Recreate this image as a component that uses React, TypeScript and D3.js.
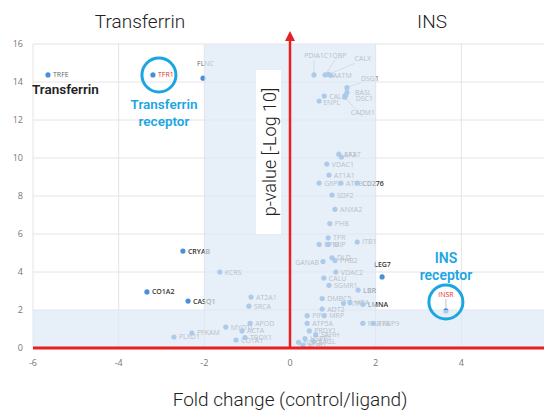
import React from 'react';
import * as d3 from 'd3';

// protein names, fold change (control/ligand) and p-value [-log10]
const names = [
  'TRFE', 'TFR1', 'FLNC', 'CRYAB', 'KCRS', 'CO1A2', 'CASQ1', 'AT2A1', 'SRCA', 'APOD',
  'MYOTL', 'ACTA', 'TBOX1', 'CO1A1', 'PFKAM', 'PLXD1',
  'PDIA1', 'C1QBP', 'AATM', 'CALX', 'DSG1', 'BASL', 'DSC1', 'CALR', 'ENPL', 'CADM1',
  'AAAT', 'EF2', 'VDAC1', 'AT1A1', 'G6PI', 'ATPB', 'CD276', 'SDF2', 'ANXA2', 'PHB',
  'TPR', 'ITB1', 'PPIB', 'MIP', 'GANAB', 'DLD', 'PHB2', 'LEG7', 'VDAC2', 'CALU',
  'SGMR1', 'LBR', 'DMBC5', 'ADT2', 'ATPA', 'HBA', 'LMNA', 'PIP', 'MRP', 'ATP5A',
  'RAB7A', 'FKBP9', 'PRDX1', 'SAHH', 'HSPB1', 'NDKB', 'TAGL', 'ALBU', 'INSR',
];
const foldChange = [
  -5.65, -3.2, -2.03, -2.5, -1.64, -3.34, -2.38, -0.91, -0.96, -0.93,
  -1.5, -1.12, -1.05, -1.26, -2.29, -2.71,
  0.56, 0.82, 0.95, 0.9, 1.33, 1.33, 1.3, 0.8, 0.68, 1.28,
  1.14, 1.2, 0.86, 0.91, 0.68, 1.19, 1.57, 0.98, 1.05, 0.93,
  0.89, 1.57, 0.68, 0.89, 0.77, 0.98, 1.05, 2.15, 1.07, 0.79,
  0.91, 1.59, 0.75, 0.75, 1.25, 1.4, 1.7, 0.4, 0.8, 0.4,
  1.7, 1.95, 0.45, 0.6, 0.35, 0.2, 0.55, 0.3, 3.64,
];
const pValue = [
  14.37, 14.37, 14.2, 5.1, 4.0, 2.95, 2.47, 2.68, 2.2, 1.3,
  1.1, 0.9, 0.55, 0.42, 0.79, 0.58,
  14.37, 14.37, 14.35, 14.4, 13.7, 13.45, 13.3, 13.26, 13.0, 13.2,
  10.2, 10.05, 9.68, 9.1, 8.68, 8.68, 8.68, 8.05, 7.3, 6.55,
  5.8, 5.58, 5.45, 5.45, 4.55, 4.75, 4.6, 3.74, 4.0, 3.68,
  3.3, 3.05, 2.6, 2.05, 2.35, 2.4, 2.3, 1.7, 1.7, 1.3,
  1.3, 1.3, 0.9, 0.7, 0.5, 0.3, 0.35, 0.15, 1.95,
];
const xTicks = [-6, -4, -2, 0, 2, 4, 6];
const yTicks = [0, 2, 4, 6, 8, 10, 12, 14, 16];

// label placement tweaks (dx, dy, anchor, leader line)
const labelPos: Record<string, [number, number, string, boolean?]> = {
  FLNC: [-6, -12, 'start'],
  PDIA1: [0, -17, 'middle', true],
  C1QBP: [10, -17, 'middle', true],
  AATM: [2, 3, 'start'],
  CALX: [26, -13, 'start', true],
  DSG1: [14, -7, 'start', true],
  BASL: [8, 3, 'start'],
  DSC1: [10, 6, 'start'],
  CADM1: [18, 18, 'middle', true],
  ENPL: [4, 4, 'start'],
  GANAB: [-4, 3, 'end'],
  LEG7: [-8, -10, 'start'],
  EF2: [3, 0, 'start'],
  INSR: [0, -14, 'middle', true],
};
const darkLabels = ['CD276', 'LEG7', 'LBR', 'LMNA', 'CO1A2', 'CRYAB', 'CASQ1'];

const W = 544;
const H = 412;

const App = () => {
  const x = d3.scaleLinear().domain([-6, 6]).range([33, 547]);
  const y = d3.scaleLinear().domain([0, 16]).range([348, 44]);

  // shaded "not significant" zone: vertical band |fc|<2 plus bottom band p<2
  const shade = d3.line<[number, number]>().x(d => x(d[0])).y(d => y(d[1]))([
    [-6, 0], [6, 0], [6, 2], [2, 2], [2, 16], [-2, 16], [-2, 2], [-6, 2],
  ]) + 'Z';

  const blue = '#1ba6e2';

  return (
    <svg width={W} height={H} style={{ position: 'absolute', left: 0, top: 0, background: '#fff' }}
      fontFamily="'Open Sans', sans-serif">
      {/* grid */}
      {yTicks.filter(t => t > 0).map(t => (
        <line key={'gy' + t} x1={x(-6)} x2={W} y1={y(t)} y2={y(t)} stroke="#e4e4e4" strokeWidth={1} />
      ))}
      {xTicks.filter(t => t !== 0).map(t => (
        <line key={'gx' + t} x1={x(t)} x2={x(t)} y1={y(16)} y2={y(0)} stroke="#e4e4e4" strokeWidth={1} />
      ))}

      {/* points + labels */}
      {names.map((n, i) => {
        const px = x(foldChange[i]);
        const py = y(pValue[i]);
        const lp = labelPos[n] || [5, 2.5, 'start'];
        const lx = px + lp[0];
        const ly = py + lp[1];
        const col = n === 'TFR1' || n === 'INSR' ? '#e03030' : darkLabels.includes(n) ? '#333' : '#666';
        return (
          <g key={n}>
            {lp[3] && (
              <line x1={lx} y1={ly + 2} x2={px} y2={py} stroke="#999" strokeWidth={0.6} />
            )}
            <circle cx={px} cy={py} r={2.6} fill="#4a90d9" />
            <text x={lx} y={ly} fontSize={7} fill={col} textAnchor={lp[2]}
              fontWeight={darkLabels.includes(n) ? 600 : 400}>{n}</text>
          </g>
        );
      })}

      <path d={shade} fill="#dce8f5" fillOpacity={0.68} />

      {/* tick labels */}
      {yTicks.map(t => (
        <text key={'ty' + t} x={23} y={y(t) + 3} fontSize={9} fill="#777" textAnchor="end">{t}</text>
      ))}
      {xTicks.map(t => (
        <text key={'tx' + t} x={x(t)} y={366} fontSize={9} fill="#777" textAnchor="middle">{t}</text>
      ))}

      {/* red axes */}
      <line x1={x(-6)} x2={W} y1={y(0)} y2={y(0)} stroke="#e8201f" strokeWidth={3} />
      <line x1={x(0)} x2={x(0)} y1={y(0)} y2={40} stroke="#e8201f" strokeWidth={2.5} />
      <path d={`M${x(0) - 5},${41} L${x(0)},${31} L${x(0) + 5},${41} Z`} fill="#e8201f" />

      {/* y axis title */}
      <rect x={256} y={70} width={25} height={164} fill="#fff" />
      <text transform="translate(276,152) rotate(-90)" textAnchor="middle" fontSize={18}
        fontFamily="Roboto, sans-serif" fontWeight={300} fill="#222">p-value [-Log 10]</text>

      {/* top titles */}
      <text x={140} y={28} textAnchor="middle" fontSize={19} fontFamily="Roboto, sans-serif"
        fontWeight={300} fill="#222">Transferrin</text>
      <text x={432} y={28} textAnchor="middle" fontSize={19} fontFamily="Roboto, sans-serif"
        fontWeight={300} fill="#222">INS</text>

      {/* x axis title */}
      <text x={290} y={406} textAnchor="middle" fontSize={19} fontFamily="Roboto, sans-serif"
        fontWeight={300} fill="#222">Fold change (control/ligand)</text>

      {/* annotations */}
      <text x={32} y={94} fontSize={13.5} fontWeight={600} fill="#222"
        fontFamily="Roboto, sans-serif">Transferrin</text>
      <circle cx={x(-3.2) + 6} cy={y(14.37)} r={17} fill="none" stroke={blue} strokeWidth={3} />
      <text x={164} y={109} textAnchor="middle" fontSize={13.5} fontWeight={600} fill={blue}
        fontFamily="Roboto, sans-serif">Transferrin</text>
      <text x={164} y={126} textAnchor="middle" fontSize={13.5} fontWeight={600} fill={blue}
        fontFamily="Roboto, sans-serif">receptor</text>
      <circle cx={x(3.64)} cy={302} r={17} fill="none" stroke={blue} strokeWidth={3} />
      <text x={446} y={263} textAnchor="middle" fontSize={14} fontWeight={600} fill={blue}
        fontFamily="Roboto, sans-serif">INS</text>
      <text x={446} y={280} textAnchor="middle" fontSize={14} fontWeight={600} fill={blue}
        fontFamily="Roboto, sans-serif">receptor</text>
    </svg>
  );
};

export default App;
